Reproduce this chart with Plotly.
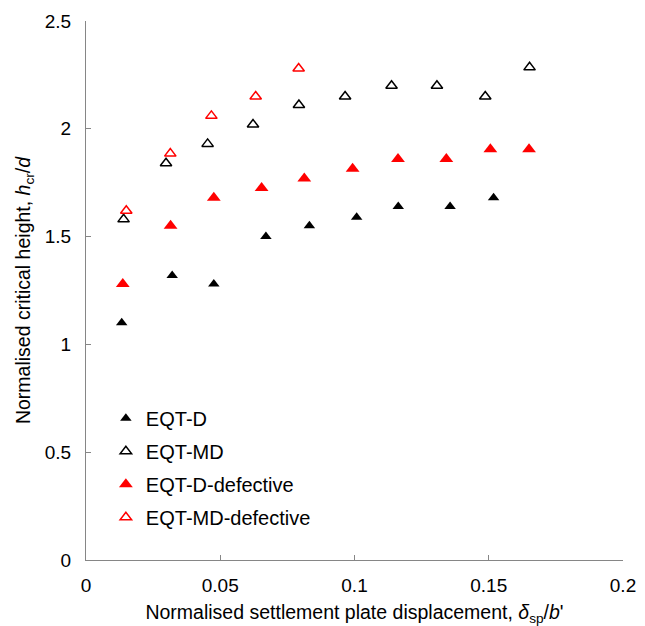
import plotly.graph_objects as go

# Data
eqt_d_x = [0.0133, 0.0321, 0.0476, 0.0670, 0.0832, 0.1008, 0.1163, 0.1356, 0.1518]
eqt_d_y = [1.10, 1.32, 1.28, 1.50, 1.55, 1.59, 1.64, 1.64, 1.68]

eqt_md_x = [0.0140, 0.0298, 0.0453, 0.0622, 0.0793, 0.0965, 0.1138, 0.1307, 0.1487, 0.1652]
eqt_md_y = [1.58, 1.84, 1.93, 2.02, 2.11, 2.15, 2.20, 2.20, 2.15, 2.285]

eqt_d_def_x = [0.0137, 0.0315, 0.0476, 0.0654, 0.0813, 0.0993, 0.1162, 0.1342, 0.1506, 0.1650]
eqt_d_def_y = [1.28, 1.55, 1.68, 1.725, 1.77, 1.815, 1.86, 1.86, 1.905, 1.905]

eqt_md_def_x = [0.0150, 0.0314, 0.0467, 0.0632, 0.0792]
eqt_md_def_y = [1.62, 1.885, 2.06, 2.15, 2.28]

x_ticks = [0, 0.05, 0.1, 0.15, 0.2]
x_tick_text = ["0", "0.05", "0.1", "0.15", "0.2"]
y_ticks = [0, 0.5, 1, 1.5, 2, 2.5]
y_tick_text = ["0", "0.5", "1", "1.5", "2", "2.5"]

FONT = "Liberation Sans, Arial, sans-serif"

fig = go.Figure()
fig.add_trace(go.Scatter(x=eqt_d_x, y=eqt_d_y, mode="markers", name="EQT-D",
                         legendgroup="a",
                         marker=dict(symbol="triangle-up", size=10, color="black")))
fig.add_trace(go.Scatter(x=eqt_md_x, y=eqt_md_y, mode="markers", name="EQT-MD",
                         legendgroup="b",
                         marker=dict(symbol="triangle-up-open", size=10, color="black",
                                     line=dict(width=1.5, color="black"))))
fig.add_trace(go.Scatter(x=eqt_d_def_x, y=eqt_d_def_y, mode="markers", name="EQT-D-defective",
                         legendgroup="c",
                         marker=dict(symbol="triangle-up", size=12, color="#ff0000")))
fig.add_trace(go.Scatter(x=eqt_md_def_x, y=eqt_md_def_y, mode="markers", name="EQT-MD-defective",
                         legendgroup="d",
                         marker=dict(symbol="triangle-up-open", size=10, color="#ff0000",
                                     line=dict(width=1.5, color="#ff0000"))))

axis_common = dict(showgrid=False, zeroline=False, showline=True, linecolor="#868686",
                   linewidth=1.3, ticks="inside", ticklen=5, tickcolor="#868686",
                   tickwidth=1.3, automargin=False,
                   tickfont=dict(family=FONT, size=19, color="black"))

fig.update_xaxes(range=[0, 0.2], tickvals=x_ticks, ticktext=x_tick_text,
                 title=dict(text="Normalised settlement plate displacement, <i>δ</i><sub>sp</sub>/<i>b</i>'",
                            font=dict(family=FONT, size=19.5, color="black"), standoff=13),
                 ticklabelstandoff=8, **axis_common)
fig.update_yaxes(range=[0, 2.5], tickvals=y_ticks, ticktext=y_tick_text,
                 title=dict(text="Normalised critical height, <i>h</i><sub>cr</sub>/<i>d</i>",
                            font=dict(family=FONT, size=19.5, color="black"), standoff=8),
                 ticklabelstandoff=10, **axis_common)

fig.update_layout(
    width=645, height=626,
    margin=dict(l=86, r=22, t=21, b=66),
    plot_bgcolor="white", paper_bgcolor="white",
    font=dict(family=FONT, size=20, color="black"),
    legend=dict(x=0.037, y=0.299, xanchor="left", yanchor="top",
                font=dict(family=FONT, size=20, color="black"),
                tracegroupgap=4, bgcolor="rgba(0,0,0,0)"),
)

fig.write_html("out.html", config={"displayModeBar": False},
               post_script="document.body.style.margin='0';document.body.style.overflow='hidden';")
